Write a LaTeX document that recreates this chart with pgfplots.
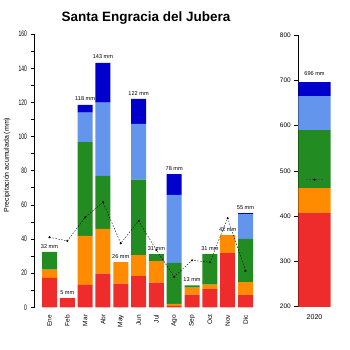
\documentclass[border=0pt]{standalone}
\usepackage{pgfplots}
\pgfplotsset{compat=1.18}
\usepackage{fontspec}
\setmainfont{Liberation Sans}
\newfontfamily\narrowfont[FakeStretch=0.62]{Liberation Sans}
\definecolor{cred}{HTML}{EE2C2C}
\definecolor{corange}{HTML}{FF8C00}
\definecolor{cgreen}{HTML}{228B22}
\definecolor{clblue}{HTML}{6495ED}
\definecolor{cdblue}{HTML}{0000CD}
\begin{document}
\begin{tikzpicture}
\useasboundingbox (0pt,0pt) rectangle (350pt,350pt);
\node[font=\bfseries\fontsize{13.5}{15}\selectfont] at (146pt,332pt) {Santa Engracia del Jubera};
\node[rotate=90, font=\fontsize{7}{8}\selectfont] at (7pt,185pt) {Precipitación acumulada (mm)};
% ---------- left panel: monthly bars ----------
\begin{axis}[
  at={(34.5pt,42.7pt)}, anchor=south west, scale only axis,
  width=226pt, height=273.2pt,
  xmin=0.158, xmax=12.842, ymin=0, ymax=160,
  ybar stacked, bar width=15pt,
  axis lines*=left, x axis line style={draw=none},
  xtick={1,...,12},
  xticklabels={Ene,Feb,Mar,Abr,May,Jun,Jul,Ago,Sep,Oct,Nov,Dic},
  x tick style={draw=none},
  xticklabel style={rotate=90, anchor=east, font=\fontsize{6.5}{7}\selectfont},
  ytick={0,20,...,160}, minor ytick={10,30,...,150},
  tick align=outside, major tick length=4pt, minor tick length=4pt,
  yticklabel style={font=\narrowfont\fontsize{8}{9}\selectfont},
  /pgf/number format/assume math mode=true,
  axis line style={line width=0.6pt}, y tick style={line width=0.6pt, black},
]
\addplot[fill=cred, draw=none] coordinates {(1,17.2) (2,5.4) (3,13.1) (4,19.7) (5,13.8) (6,18.3) (7,14.4) (8,0.8) (9,7.4) (10,10.7) (11,31.8) (12,7.2)};
\addplot[fill=corange, draw=none] coordinates {(1,4.8) (2,0) (3,28.7) (4,26.2) (5,12.6) (6,12.2) (7,12.7) (8,1.2) (9,4.1) (10,2.6) (11,10.4) (12,7.6)};
\addplot[fill=cgreen, draw=none] coordinates {(1,10.5) (2,0) (3,55.0) (4,31.1) (5,0) (6,44.3) (7,4.1) (8,24.0) (9,1.4) (10,17.9) (11,0) (12,25.2)};
\addplot[fill=clblue, draw=none] coordinates {(1,0) (2,0) (3,17.2) (4,42.8) (5,0) (6,32.6) (7,0) (8,39.8) (9,0) (10,0) (11,0) (12,14.5)};
\addplot[fill=cdblue, draw=none] coordinates {(1,0) (2,0) (3,4.6) (4,23.4) (5,0) (6,14.7) (7,0) (8,12.2) (9,0) (10,0) (11,0) (12,0.6)};
\end{axis}
\begin{axis}[
  at={(34.5pt,42.7pt)}, anchor=south west, scale only axis,
  width=226pt, height=273.2pt,
  xmin=0.158, xmax=12.842, ymin=0, ymax=160,
  hide axis, clip=false,
]
\addplot[black, line width=0.4pt, dash pattern=on 1.5pt off 1.5pt, mark=*, mark size=0.8pt, mark options={solid}]
 coordinates {(1,41.0) (2,38.9) (3,52.7) (4,61.5) (5,37.5) (6,50.6) (7,33.5) (8,17.9) (9,27.5) (10,26.4) (11,52.2) (12,21.3)};
\addplot[only marks, mark=none, nodes near coords, point meta=explicit symbolic,
  every node near coord/.style={anchor=base, yshift=3.8pt, inner sep=0pt, font=\fontsize{5.6}{6}\selectfont}]
 coordinates {(1,32.5)[32 mm] (2,5.4)[5 mm] (3,118.6)[118 mm] (4,143.2)[143 mm] (5,26.4)[26 mm] (6,122.1)[122 mm] (7,31.2)[31 mm] (8,78.0)[78 mm] (9,12.9)[13 mm] (10,31.2)[31 mm] (11,42.2)[42 mm] (12,55.1)[55 mm]};
\end{axis}
% ---------- right panel: annual ----------
\begin{axis}[
  at={(298.3pt,43.3pt)}, anchor=south west, scale only axis,
  width=32.4pt, height=271.7pt,
  xmin=0, xmax=1, ymin=200, ymax=800,
  ybar stacked, bar width=32.4pt,
  axis lines*=left, x axis line style={draw=none},
  xtick={0.5}, xticklabels={2020}, x tick style={draw=none},
  xticklabel style={font=\fontsize{7}{8}\selectfont},
  ytick={200,300,...,800},
  tick align=outside, major tick length=4pt,
  yticklabel style={font=\fontsize{6.5}{7}\selectfont},
  /pgf/number format/assume math mode=true,
  axis line style={line width=0.6pt}, y tick style={line width=0.6pt, black},
]
\addplot[fill=cred, draw=none] coordinates {(0.5,407.6)};
\addplot[fill=corange, draw=none] coordinates {(0.5,55.2)};
\addplot[fill=cgreen, draw=none] coordinates {(0.5,128.1)};
\addplot[fill=clblue, draw=none] coordinates {(0.5,75.1)};
\addplot[fill=cdblue, draw=none] coordinates {(0.5,30.9)};
\end{axis}
\begin{axis}[
  at={(298.3pt,43.3pt)}, anchor=south west, scale only axis,
  width=32.4pt, height=271.7pt,
  xmin=0, xmax=1, ymin=200, ymax=800,
  hide axis, clip=false,
]
\addplot[black!70, line width=0.4pt, dash pattern=on 1.5pt off 1.5pt] coordinates {(0.24,480.5) (0.75,480.5)};
\addplot[only marks, mark=*, mark size=0.8pt, black] coordinates {(0.5,480.5)};
\addplot[only marks, mark=none, nodes near coords, point meta=explicit symbolic,
  every node near coord/.style={anchor=base, yshift=6.5pt, inner sep=0pt, font=\fontsize{5.6}{6}\selectfont}]
 coordinates {(0.5,696.9)[696 mm]};
\end{axis}
\end{tikzpicture}
\end{document}
